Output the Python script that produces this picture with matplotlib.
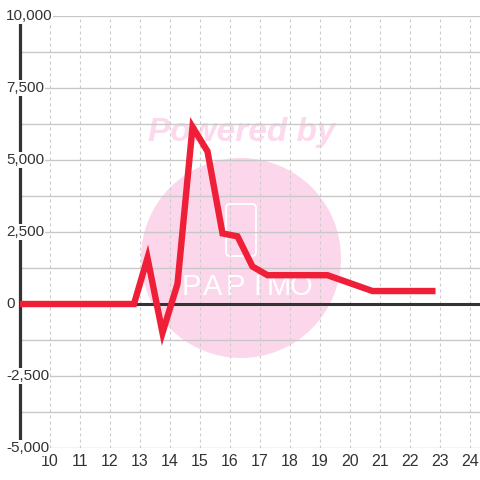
import numpy as np
import matplotlib
matplotlib.use("Agg")
import matplotlib.pyplot as plt
from matplotlib.patches import Circle, FancyBboxPatch
from matplotlib.transforms import ScaledTranslation

# hour of day vs. balance
hours = [9, 12.8, 13.25, 13.75, 14.25, 14.75, 15.25, 15.75, 16.25, 16.75, 17.25, 19.25, 20.75, 22.85]
balance = [0, 0, 1600, -1000, 700, 6150, 5300, 2450, 2350, 1300, 1000, 1000, 450, 450]

x_ticks = list(range(10, 25))
y_ticks = [10000, 7500, 5000, 2500, 0, -2500, -5000]
y_grid = np.arange(-5000, 10001, 1250)

plt.rcParams['font.family'] = ['Liberation Sans', 'DejaVu Sans']

fig = plt.figure(figsize=(4.8, 4.8), dpi=100)
fig.patch.set_facecolor('white')
ax = fig.add_axes([20 / 480, 32 / 480, 460 / 480, 432 / 480])
ax.set_xlim(9, 9 + 460 / 30)
ax.set_ylim(-5000, 10000)

# grid
ax.set_axisbelow(True)
ax.set_yticks(y_grid)
ax.set_yticklabels([])
ax.set_xticks(x_ticks)
ax.set_xticklabels([str(t) for t in x_ticks], fontsize=11.5, color='#333333')
ax.tick_params(axis='both', length=0)
ax.tick_params(axis='x', pad=4)
ax.grid(axis='y', color='#c8c8c8', linewidth=1, linestyle='-')
ax.grid(axis='x', color='#cccccc', linewidth=0.8, linestyle=(0, (2.7, 2.7)))

for side in ['top', 'right', 'bottom']:
    ax.spines[side].set_visible(False)
ax.spines['left'].set_color('#333333')
ax.spines['left'].set_linewidth(2.3)
ax.spines['left'].set_zorder(2.6)

# watermark
ax.add_patch(Circle((2.41, 4.8 - 2.58), 1.0, transform=fig.dpi_scale_trans,
                    facecolor='#fcd7eb', edgecolor='none', zorder=0.3, clip_on=False))
ax.text(2.42, 4.8 - 1.33, 'Powered by', transform=fig.dpi_scale_trans,
        fontsize=24, fontweight='heavy', fontstyle='italic', color='#fcd9ec',
        ha='center', va='center', zorder=0.3)
ax.add_patch(FancyBboxPatch((2.26, 4.8 - 2.56), 0.3, 0.52, boxstyle='round,pad=0,rounding_size=0.04',
                            transform=fig.dpi_scale_trans, facecolor='none',
                            edgecolor='white', linewidth=1.3, zorder=0.35))
for i, ch in enumerate('PAPIMO'):
    ax.text(1.91 + i * 0.22, 4.8 - 2.87, ch, transform=fig.dpi_scale_trans,
            fontsize=21, color='white', ha='center', va='center', zorder=0.35)

# zero line
ax.axhline(0, color='#333333', linewidth=2.2, zorder=1.8)

# series
ax.plot(hours, balance, color='#ee1f37', linewidth=4.6,
        solid_joinstyle='miter', solid_capstyle='butt', zorder=3)

# y labels, left aligned over the spine
offset = ScaledTranslation(-0.14, 0, fig.dpi_scale_trans)
for v in y_ticks:
    ax.text(0, v, f'{v:,}', transform=ax.get_yaxis_transform() + offset,
            ha='left', va='center', fontsize=11, color='#333333',
            bbox=dict(facecolor='white', edgecolor='none', pad=0.5),
            zorder=5, clip_on=False)

fig.savefig('out.png', dpi=100)
